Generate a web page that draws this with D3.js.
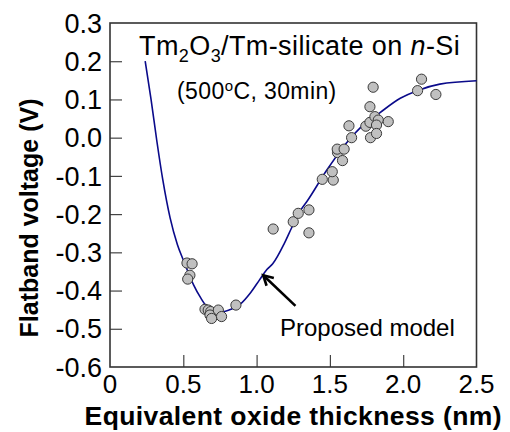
<!DOCTYPE html>
<html>
<head>
<meta charset="utf-8">
<script src="https://cdn.jsdelivr.net/npm/d3@7"></script>
<style>
  html, body { margin: 0; padding: 0; background: #fff; }
  svg { display: block; }
  text { font-family: "Liberation Sans", Arial, sans-serif; fill: #000; }
</style>
</head>
<body>
<svg id="chart" width="510" height="432"></svg>
<script>
// ---- data ----
const eot = [0.525, 0.56, 0.545, 0.53, 0.648, 0.67, 0.687, 0.682, 0.693, 0.739, 0.761, 0.859,
             1.113, 1.25, 1.284, 1.357, 1.357, 1.448, 1.523, 1.516, 1.552, 1.55, 1.597, 1.586,
             1.648, 1.63, 1.745, 1.773, 1.777, 1.795, 1.773, 1.807, 1.83, 1.818, 1.818, 1.898,
             2.125, 2.098, 2.223];
const vfb = [-0.328, -0.33, -0.36, -0.37, -0.449, -0.451, -0.455, -0.464, -0.473, -0.451, -0.468, -0.438,
             -0.239, -0.22, -0.198, -0.189, -0.249, -0.109, -0.111, -0.089, -0.039, -0.03, -0.03, -0.06,
             0.0, 0.031, 0.03, 0.04, 0.0, 0.132, 0.081, 0.055, 0.046, 0.033, 0.011, 0.042,
             0.153, 0.123, 0.113];
const modelX = [0.24, 0.28, 0.32, 0.36, 0.41, 0.46, 0.50, 0.57, 0.62, 0.66, 0.70, 0.77, 0.83, 0.89,
                0.96, 1.02, 1.07, 1.11, 1.19, 1.24, 1.30, 1.35, 1.47, 1.61, 1.71, 1.84, 1.98, 2.11, 2.25, 2.50];
const modelY = [0.20, 0.10, -0.01, -0.11, -0.21, -0.28, -0.32, -0.385, -0.42, -0.442, -0.452, -0.455, -0.448, -0.435,
                -0.405, -0.372, -0.345, -0.33, -0.276, -0.235, -0.19, -0.163, -0.09, -0.015, 0.027, 0.065, 0.103, 0.125, 0.14, 0.149];
const xTicks = [0, 0.5, 1.0, 1.5, 2.0, 2.5];
const xTickLabels = ["0", "0.5", "1.0", "1.5", "2.0", "2.5"];
const yTicks = [0.3, 0.2, 0.1, 0.0, -0.1, -0.2, -0.3, -0.4, -0.5, -0.6];
const yTickLabels = ["0.3", "0.2", "0.1", "0.0", "-0.1", "-0.2", "-0.3", "-0.4", "-0.5", "-0.6"];

// ---- layout ----
const L = 110, R = 476.5, T = 23, B = 367;
const svg = d3.select("#chart");
const x = d3.scaleLinear().domain([0, 2.5]).range([L, R]);
const y = d3.scaleLinear().domain([-0.6, 0.3]).range([B, T]);

// ticks (inward)
const xAxis = d3.axisTop(x).tickValues(xTicks.slice(1, -1)).tickSize(12).tickFormat("");
const gx = svg.append("g").attr("transform", `translate(0,${B})`).call(xAxis);
gx.select(".domain").remove();
gx.selectAll("line").attr("stroke", "#444").attr("stroke-width", 1.2);

const yAxis = d3.axisRight(y).tickValues(yTicks.slice(1, -1)).tickSize(12).tickFormat("");
const gy = svg.append("g").attr("transform", `translate(${L},0)`).call(yAxis);
gy.select(".domain").remove();
gy.selectAll("line").attr("stroke", "#444").attr("stroke-width", 1.2);

// tick labels
svg.append("g").selectAll("text").data(xTicks).join("text")
  .attr("x", d => x(d)).attr("y", B + 26)
  .attr("text-anchor", "middle").attr("font-size", 26)
  .text((d, i) => xTickLabels[i]);
svg.append("g").selectAll("text").data(yTicks).join("text")
  .attr("x", L - 8).attr("y", d => y(d)).attr("dy", "0.36em")
  .attr("text-anchor", "end").attr("font-size", 27)
  .text((d, i) => yTickLabels[i]);

// frame
svg.append("rect").attr("x", L).attr("y", T).attr("width", R - L).attr("height", B - T)
  .attr("fill", "none").attr("stroke", "#333").attr("stroke-width", 1.6);

// model curve
const line = d3.line().x(d => x(d[0])).y(d => y(d[1])).curve(d3.curveMonotoneX);
svg.append("path").datum(modelX.map((v, i) => [v, modelY[i]]))
  .attr("d", line).attr("fill", "none").attr("stroke", "#0a0a8a").attr("stroke-width", 1.6);

// data points
svg.append("g").selectAll("circle").data(eot.map((v, i) => [v, vfb[i]])).join("circle")
  .attr("cx", d => x(d[0])).attr("cy", d => y(d[1])).attr("r", 5.1)
  .attr("fill", "#c0c0c0").attr("stroke", "#3a3a3a").attr("stroke-width", 1);

// arrow
const ax0 = 1.265, ay0 = -0.440, ax1 = 1.045, ay1 = -0.36;
const g = svg.append("g").attr("stroke", "#000").attr("stroke-width", 2.6).attr("fill", "none");
g.append("line").attr("x1", x(ax0)).attr("y1", y(ay0)).attr("x2", x(ax1)).attr("y2", y(ay1));
{
  const dx = x(ax0) - x(ax1), dy = y(ay0) - y(ay1);
  const len = Math.hypot(dx, dy), ux = dx / len, uy = dy / len;
  const hl = 11, ang = 0.5;
  const p = (a) => [x(ax1) + hl * (ux * Math.cos(a) - uy * Math.sin(a)), y(ay1) + hl * (ux * Math.sin(a) + uy * Math.cos(a))];
  const a1 = p(ang), a2 = p(-ang);
  g.append("path").attr("d", `M${a1[0]},${a1[1]} L${x(ax1)},${y(ay1)} L${a2[0]},${a2[1]}`);
}

// annotations
svg.append("text").attr("x", 280).attr("y", 336).attr("font-size", 24).text("Proposed model");

const t1 = svg.append("text").attr("x", 139).attr("y", 55).attr("font-size", 27).attr("letter-spacing", 0.4);
t1.append("tspan").text("Tm");
t1.append("tspan").attr("font-size", 18).attr("dy", 7).text("2");
t1.append("tspan").attr("dy", -7).text("O");
t1.append("tspan").attr("font-size", 18).attr("dy", 7).text("3");
t1.append("tspan").attr("dy", -7).text("/Tm-silicate on ");
t1.append("tspan").attr("font-style", "italic").text("n");
t1.append("tspan").text("-Si");

const t2 = svg.append("text").attr("x", 177).attr("y", 99).attr("font-size", 23).attr("letter-spacing", 0.4);
t2.append("tspan").text("(500");
t2.append("tspan").attr("font-size", 15).attr("dy", -8).text("o");
t2.append("tspan").attr("dy", 8).text("C, 30min)");

// axis titles
svg.append("text").attr("x", (L + R) / 2).attr("y", 425).attr("text-anchor", "middle")
  .attr("font-size", 26.5).attr("letter-spacing", 0.4).attr("font-weight", "bold").text("Equivalent oxide thickness (nm)");
svg.append("text").attr("transform", `translate(38,${218}) rotate(-90)`).attr("text-anchor", "middle")
  .attr("font-size", 25).attr("font-weight", "bold").text("Flatband voltage (V)");
</script>
</body>
</html>
